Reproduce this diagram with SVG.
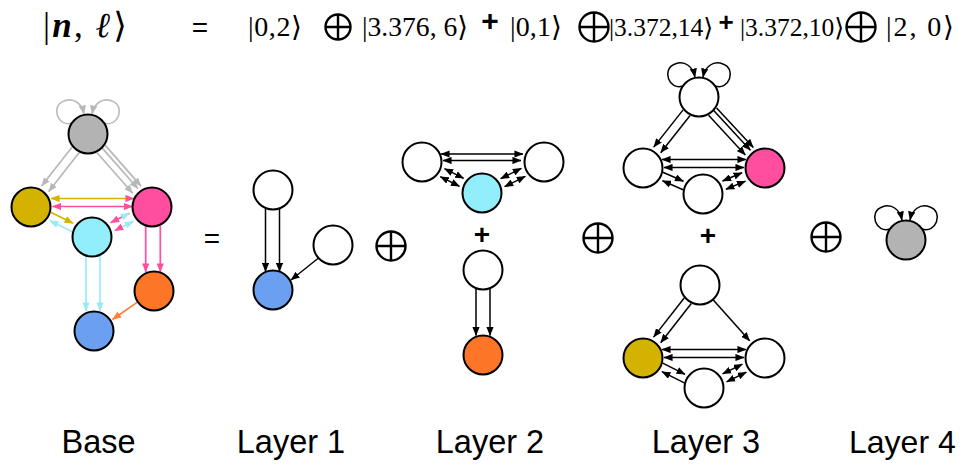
<svg xmlns="http://www.w3.org/2000/svg" width="960" height="464" viewBox="0 0 960 464">
<style>
.nd{stroke:#000;stroke-width:2}
.w{fill:#fff}
.e path{fill:none;stroke-width:1.7}
.k path{stroke:#000;stroke-width:1.5}
.lbl{font-family:"Liberation Sans",Arial,sans-serif;font-size:32.5px;fill:#000;text-anchor:middle}
.ket{font-family:"Liberation Serif","DejaVu Serif","DejaVu Sans",serif;font-size:28px;fill:#000}
.op{font-family:"Liberation Sans",Arial,sans-serif;fill:#000;text-anchor:middle}
.osum circle,.osum path{fill:none;stroke:#000;stroke-width:2.4}
</style>
<defs>
<marker id="mk" viewBox="0 0 10 8" refX="9.5" refY="4" markerWidth="9" markerHeight="7.2" markerUnits="userSpaceOnUse" orient="auto-start-reverse"><path d="M0,0 L10,4 L0,8 z" fill="#000"/></marker>
<marker id="mg" viewBox="0 0 10 8" refX="9.5" refY="4" markerWidth="9" markerHeight="7.2" markerUnits="userSpaceOnUse" orient="auto-start-reverse"><path d="M0,0 L10,4 L0,8 z" fill="#b8b8b8"/></marker>
<marker id="my" viewBox="0 0 10 8" refX="9.5" refY="4" markerWidth="9" markerHeight="7.2" markerUnits="userSpaceOnUse" orient="auto-start-reverse"><path d="M0,0 L10,4 L0,8 z" fill="#d4b300"/></marker>
<marker id="mp" viewBox="0 0 10 8" refX="9.5" refY="4" markerWidth="9" markerHeight="7.2" markerUnits="userSpaceOnUse" orient="auto-start-reverse"><path d="M0,0 L10,4 L0,8 z" fill="#ff4d9f"/></marker>
<marker id="mc" viewBox="0 0 10 8" refX="9.5" refY="4" markerWidth="9" markerHeight="7.2" markerUnits="userSpaceOnUse" orient="auto-start-reverse"><path d="M0,0 L10,4 L0,8 z" fill="#99eaf7"/></marker>
<marker id="mo" viewBox="0 0 10 8" refX="9.5" refY="4" markerWidth="9" markerHeight="7.2" markerUnits="userSpaceOnUse" orient="auto-start-reverse"><path d="M0,0 L10,4 L0,8 z" fill="#ff7f33"/></marker>
<g id="oplus" class="osum"><circle cx="0" cy="0" r="14.5"/><path d="M-14.5,0 H14.5 M0,-14.5 V14.5"/></g>
<g id="oplusS" class="osum"><circle cx="0" cy="0" r="12.5"/><path d="M-12.5,0 H12.5 M0,-12.5 V12.5"/></g>
</defs>

<!-- equation -->
<g id="equation">
<text class="ket" x="43" y="37" style="font-size:35px" textLength="84">|<tspan font-style="italic" font-weight="bold">n</tspan>, <tspan font-style="italic" font-weight="bold">ℓ</tspan>⟩</text>
<text class="op" x="200" y="37" style="font-size:28px">=</text>
<text class="ket" x="248" y="36" textLength="54">|0,2⟩</text>
<use href="#oplusS" x="338" y="27"/>
<text class="ket" x="362" y="36" textLength="106" lengthAdjust="spacingAndGlyphs">|3.376, 6⟩</text>
<text class="op" x="490" y="31" style="font-size:30px;font-weight:bold">+</text>
<text class="ket" x="510" y="36" textLength="52">|0,1⟩</text>
<use href="#oplus" x="594" y="27"/>
<text class="ket" x="609" y="36" style="font-size:25.5px">|3.372,14⟩</text>
<text class="op" x="726" y="31" style="font-size:26px;font-weight:bold">+</text>
<text class="ket" x="740" y="36" style="font-size:25.5px">|3.372,10⟩</text>
<use href="#oplus" x="861" y="27"/>
<text class="ket" x="886" y="36" textLength="68">|2, 0⟩</text>
</g>

<!-- connectors -->
<g id="connectors" class="e">
<g id="base-edges">
<path d="M72,123 C58,128 50,106 64,101 C74,97 82,104 84,114" stroke="#bdbdbd" marker-end="url(#mg)"/>
<path d="M104,123 C118,128 126,106 112,101 C102,97 94,104 92,114" stroke="#bdbdbd" marker-end="url(#mg)"/>
<path d="M72.1,147 L41.6,186.1" stroke="#b8b8b8" marker-end="url(#mg)"/>
<path d="M79.2,152.5 L48.7,191.6" stroke="#b8b8b8" marker-end="url(#mg)"/>
<path d="M97.1,152.7 L132.7,193.3" stroke="#b8b8b8" marker-end="url(#mg)"/>
<path d="M102.3,148.1 L138,188.7" stroke="#b8b8b8" marker-end="url(#mg)"/>
<path d="M105.3,145.4 L141,186.1" stroke="#b8b8b8" marker-end="url(#mg)"/>
<path d="M51,198.5 L134,198.5" stroke="#d4b300" marker-start="url(#my)" marker-end="url(#mp)"/>
<path d="M52.5,206.5 L132.5,206.5" stroke="#ff4d9f" marker-start="url(#mp)" marker-end="url(#mp)"/>
<path d="M50.7,212.2 L73.1,223.3" stroke="#d4b300" marker-end="url(#my)"/>
<path d="M72.3,231.8 L49.9,220.7" stroke="#99eaf7" marker-end="url(#mc)"/>
<path d="M110.6,222.7 L129.4,213.3" stroke="#ff4d9f" marker-start="url(#mp)" marker-end="url(#mc)"/>
<path d="M114.6,230.7 L133.4,221.3" stroke="#99eaf7" marker-start="url(#mp)" marker-end="url(#mc)"/>
<path d="M86,256 L86,311" stroke="#99eaf7" marker-end="url(#mc)"/>
<path d="M100,256 L100,311" stroke="#99eaf7" marker-end="url(#mc)"/>
<path d="M145.7,226 L145.7,272" stroke="#ff4d9f" marker-end="url(#mp)"/>
<path d="M160.3,226 L160.3,272" stroke="#ff4d9f" marker-end="url(#mp)"/>
<path d="M137.4,302.1 L112.5,319.5" stroke="#ff7f33" marker-end="url(#mo)"/>
</g>
<g id="layer1-edges" class="k">
<path d="M265.5,208.5 L265.5,271.5" marker-end="url(#mk)"/>
<path d="M279.5,208.5 L279.5,271.5" marker-end="url(#mk)"/>
<path d="M318.5,258 L291,280" marker-end="url(#mk)"/>
</g>
<g id="layer2-edges" class="k">
<path d="M441,154 L523,154" marker-start="url(#mk)" marker-end="url(#mk)"/>
<path d="M443,160.5 L521,160.5" marker-start="url(#mk)" marker-end="url(#mk)"/>
<path d="M444.5,168.6 L463.7,178.4" marker-start="url(#mk)" marker-end="url(#mk)"/>
<path d="M440.3,176.6 L459.5,186.4" marker-start="url(#mk)" marker-end="url(#mk)"/>
<path d="M500.6,178.7 L521.4,168.3" marker-start="url(#mk)" marker-end="url(#mk)"/>
<path d="M504.6,186.7 L525.4,176.3" marker-start="url(#mk)" marker-end="url(#mk)"/>
<path d="M476,289 L476,335.5" marker-end="url(#mk)"/>
<path d="M490,289 L490,335.5" marker-end="url(#mk)"/>
</g>
<g id="layer3-edges" class="k">
<path d="M683,86 C669,91 661,69 675,64 C685,60 693,67 695,77" fill="none" marker-end="url(#mk)"/>
<path d="M715,86 C729,91 737,69 723,64 C713,60 705,67 703,77" fill="none" marker-end="url(#mk)"/>
<path d="M683.1,109.9 L653.7,147.1" marker-end="url(#mk)"/>
<path d="M690.1,115.5 L660.7,152.7" marker-end="url(#mk)"/>
<path d="M708.6,115.3 L745.3,154.9" marker-end="url(#mk)"/>
<path d="M713.7,110.6 L750.4,150.2" marker-end="url(#mk)"/>
<path d="M716.6,107.9 L753.3,147.5" marker-end="url(#mk)"/>
<path d="M662,159.5 L746,159.5" marker-start="url(#mk)" marker-end="url(#mk)"/>
<path d="M664,167.5 L744,167.5" marker-start="url(#mk)" marker-end="url(#mk)"/>
<path d="M662.9,172.3 L683.5,181.2" marker-end="url(#mk)"/>
<path d="M683.1,189.7 L662.5,180.8" marker-end="url(#mk)"/>
<path d="M722.5,181 L742.1,172.7" marker-start="url(#mk)" marker-end="url(#mk)"/>
<path d="M725.9,189.3 L745.5,181.1" marker-start="url(#mk)" marker-end="url(#mk)"/>
<path d="M684.2,298 L653.6,337.1" marker-end="url(#mk)"/>
<path d="M691.3,303.5 L660.7,342.7" marker-end="url(#mk)"/>
<path d="M713.3,299.9 L749.7,340.8" marker-end="url(#mk)"/>
<path d="M662,349.5 L746,349.5" marker-start="url(#mk)" marker-end="url(#mk)"/>
<path d="M664,357.5 L744,357.5" marker-start="url(#mk)" marker-end="url(#mk)"/>
<path d="M662.7,363.2 L685.1,374.3" marker-end="url(#mk)"/>
<path d="M684.3,382.8 L661.9,371.7" marker-end="url(#mk)"/>
<path d="M722.6,373.9 L742.4,364.2" marker-start="url(#mk)" marker-end="url(#mk)"/>
<path d="M726.6,381.9 L746.4,372.2" marker-start="url(#mk)" marker-end="url(#mk)"/>
</g>
<g id="layer4-edges" class="k">
<path d="M890,229 C876,234 868,212 882,207 C892,203 900,210 902,220" fill="none" marker-end="url(#mk)"/>
<path d="M922,229 C936,234 944,212 930,207 C920,203 912,210 910,220" fill="none" marker-end="url(#mk)"/>
</g>
</g>

<!-- base nodes -->
<g id="base-gray"><circle class="nd" cx="88" cy="134" r="19.5" fill="#b3b3b3"/></g>
<g id="base-gold"><circle class="nd" cx="31" cy="207" r="19.5" fill="#d4b300"/></g>
<g id="base-pink"><circle class="nd" cx="152" cy="207" r="19.5" fill="#ff4d9f"/></g>
<g id="base-cyan"><circle class="nd" cx="92" cy="237" r="19.5" fill="#92eefa"/></g>
<g id="base-orange"><circle class="nd" cx="154" cy="291" r="19.5" fill="#fd7628"/></g>
<g id="base-blue"><circle class="nd" cx="94" cy="331" r="19.5" fill="#6aa0ef"/></g>

<!-- layer 1 -->
<g id="l1-top"><circle class="nd w" cx="273" cy="190" r="19.5"/></g>
<g id="l1-right"><circle class="nd w" cx="333" cy="245" r="19.5"/></g>
<g id="l1-blue"><circle class="nd" cx="273" cy="290" r="19.5" fill="#6aa0ef"/></g>

<!-- layer 2 -->
<g id="l2a-left"><circle class="nd w" cx="422" cy="162" r="19.5"/></g>
<g id="l2a-right"><circle class="nd w" cx="544" cy="162" r="19.5"/></g>
<g id="l2a-cyan"><circle class="nd" cx="482" cy="193" r="19.5" fill="#92eefa"/></g>
<g id="l2b-top"><circle class="nd w" cx="483" cy="270" r="19.5"/></g>
<g id="l2b-orange"><circle class="nd" cx="483" cy="355" r="19.5" fill="#fd7628"/></g>

<!-- layer 3 -->
<g id="l3a-top"><circle class="nd w" cx="699" cy="97" r="19.5"/></g>
<g id="l3a-left"><circle class="nd w" cx="643" cy="168" r="19.5"/></g>
<g id="l3a-pink"><circle class="nd" cx="765" cy="168" r="19.5" fill="#ff4d9f"/></g>
<g id="l3a-bottom"><circle class="nd w" cx="703" cy="194" r="19.5"/></g>
<g id="l3b-top"><circle class="nd w" cx="700" cy="285" r="19.5"/></g>
<g id="l3b-gold"><circle class="nd" cx="643" cy="358" r="19.5" fill="#d4b300"/></g>
<g id="l3b-right"><circle class="nd w" cx="765" cy="358" r="19.5"/></g>
<g id="l3b-bottom"><circle class="nd w" cx="704" cy="388" r="19.5"/></g>

<!-- layer 4 -->
<g id="l4-gray"><circle class="nd" cx="906" cy="240" r="19.5" fill="#b3b3b3"/></g>

<!-- operators -->
<g id="operators">
<text class="op" x="212" y="248" style="font-size:28px">=</text>
<use href="#oplus" x="391" y="246"/>
<text class="op" x="482" y="244" style="font-size:28px;font-weight:bold">+</text>
<use href="#oplus" x="598" y="238"/>
<text class="op" x="708" y="245" style="font-size:28px;font-weight:bold">+</text>
<use href="#oplus" x="826" y="237"/>
</g>

<!-- labels -->
<g id="labels">
<text class="lbl" x="98.5" y="453">Base</text>
<text class="lbl" x="291" y="453">Layer 1</text>
<text class="lbl" x="490" y="453">Layer 2</text>
<text class="lbl" x="706" y="453">Layer 3</text>
<text class="lbl" x="849" y="453" style="text-anchor:start;font-size:32px">Layer 4</text>
</g>
</svg>
